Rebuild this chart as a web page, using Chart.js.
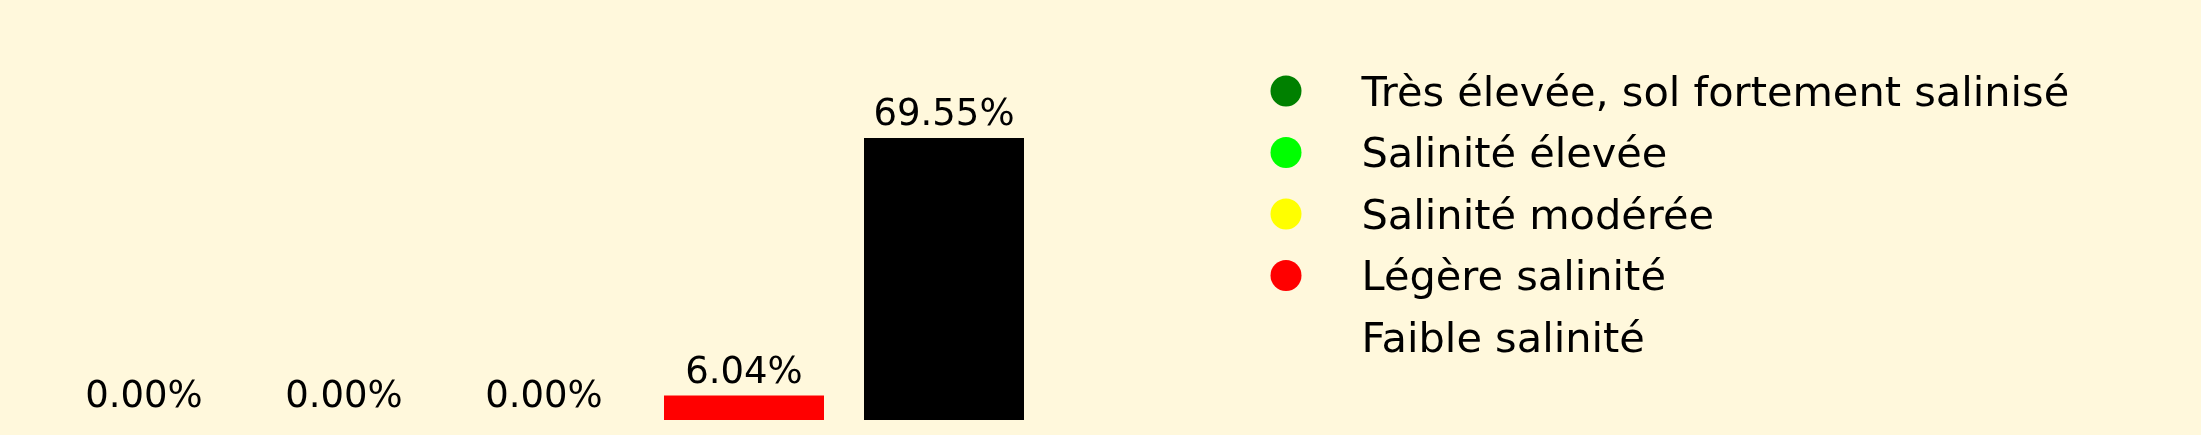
<!DOCTYPE html>
<html>
<head>
<meta charset="utf-8">
<script src="https://cdn.jsdelivr.net/npm/chart.js@4.4.1/dist/chart.umd.min.js"></script>
<style>
  html, body { margin: 0; padding: 0; background: #fff8dc; }
  #salinity_chart { display: block; }
</style>
</head>
<body>
<canvas id="salinity_chart" width="2201" height="435"></canvas>
<script>
// classes de salinité
var categories = ["Très élevée, sol fortement salinisé", "Salinité élevée", "Salinité modérée", "Légère salinité", "Faible salinité"];
var percentages = [0.00, 0.00, 0.00, 6.04, 69.55];
var barColors = ["#008000", "#00ff00", "#ffff00", "#ff0000", "#000000"];
// the last legend entry has no visible marker in the picture
var legendColors = ["#008000", "#00ff00", "#ffff00", "#ff0000", "rgba(0,0,0,0)"];

var fontFamily = "'DejaVu Sans', sans-serif";

// value labels above each bar
var barLabels = {
  id: "barLabels",
  afterDatasetsDraw(chart) {
    var ctx = chart.ctx;
    var meta = chart.getDatasetMeta(0);
    ctx.save();
    ctx.fillStyle = "#000";
    ctx.font = "37px " + fontFamily;
    ctx.textAlign = "center";
    ctx.textBaseline = "alphabetic";
    meta.data.forEach(function (bar, i) {
      ctx.fillText(percentages[i].toFixed(2) + "%", bar.x, bar.y - 13);
    });
    ctx.restore();
  }
};

// legend on the right, matplotlib style
var sideLegend = {
  id: "sideLegend",
  afterDraw(chart) {
    var ctx = chart.ctx;
    var x0 = chart.chartArea.right + 242;
    var y0 = 91;
    var step = 61.5;
    ctx.save();
    ctx.font = "41.5px " + fontFamily;
    ctx.textAlign = "left";
    ctx.textBaseline = "alphabetic";
    categories.forEach(function (name, i) {
      var y = y0 + i * step;
      ctx.fillStyle = legendColors[i];
      ctx.beginPath();
      ctx.arc(x0, y, 15.5, 0, Math.PI * 2);
      ctx.fill();
      ctx.fillStyle = "#000";
      ctx.fillText(name, x0 + 75.5, y + 14.8);
    });
    ctx.restore();
  }
};

var config = {
  type: "bar",
  data: {
    labels: categories,
    datasets: [{
      data: percentages,
      backgroundColor: barColors,
      borderWidth: 0,
      barPercentage: 0.8,
      categoryPercentage: 1.0
    }]
  },
  options: {
    responsive: false,
    animation: false,
    devicePixelRatio: 1,
    layout: { padding: { left: 44, right: 1157, top: 124, bottom: 15 } },
    plugins: {
      legend: { display: false },
      tooltip: { enabled: false }
    },
    scales: {
      x: { display: false, offset: true },
      y: { display: false, min: 0, max: 73 }
    }
  },
  plugins: [barLabels, sideLegend]
};

var salinity_chart = new Chart("salinity_chart", config);
</script>
</body>
</html>
